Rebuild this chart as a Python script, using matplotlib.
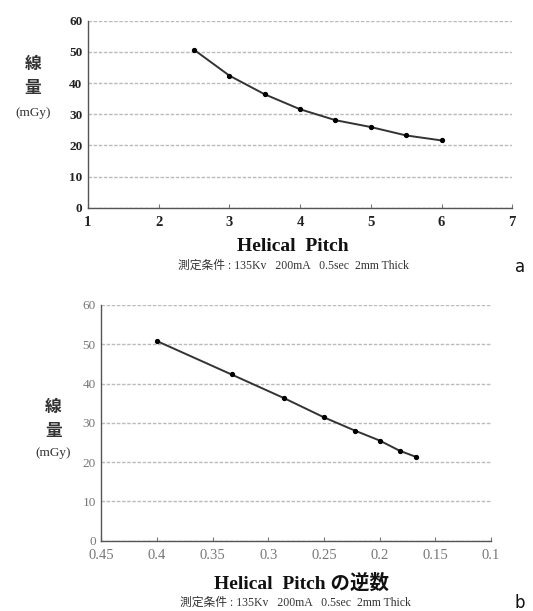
import matplotlib
matplotlib.use("Agg")
import matplotlib.pyplot as plt

# data
pitch = [2.5, 3.0, 3.5, 4.0, 4.5, 5.0, 5.5, 6.0]
dose_a = [50.7, 42.4, 36.4, 31.6, 28.1, 25.9, 23.2, 21.6]
inv_pitch = [0.4, 0.333, 0.286, 0.25, 0.222, 0.2, 0.182, 0.167]
dose_b = [50.8, 42.3, 36.3, 31.4, 28.0, 25.5, 22.9, 21.3]

xticks_a = [1, 2, 3, 4, 5, 6, 7]
xticks_b = [0.45, 0.4, 0.35, 0.3, 0.25, 0.2, 0.15, 0.1]
xlabels_b = ["0.45", "0.4", "0.35", "0.3", "0.25", "0.2", "0.15", "0.1"]
yticks = [0, 10, 20, 30, 40, 50, 60]

FAM = ["Liberation Serif", "Noto Sans CJK JP", "DejaVu Sans"]
COND = "測定条件 : 135Kv   200mA   0.5sec  2mm Thick"

fig = plt.figure(figsize=(5.33, 6.11), dpi=100)


def style_axes(ax, bold, tick_color):
    for s in ("top", "right"):
        ax.spines[s].set_visible(False)
    for s in ("left", "bottom"):
        ax.spines[s].set_color("#555555")
        ax.spines[s].set_linewidth(1.0)
    ax.set_ylim(0, 60)
    ax.set_yticks(yticks)
    ax.yaxis.grid(True, linestyle=(0, (2.5, 1.2)), color="#bbbbbb", linewidth=1.0)
    ax.set_axisbelow(True)
    ax.tick_params(axis="x", direction="in", length=3, color="#777777",
                   labelsize=10.5, labelcolor=tick_color, pad=6)
    ax.tick_params(axis="y", length=0, labelsize=9.5, labelcolor=tick_color, pad=4)
    for lab in ax.get_xticklabels() + ax.get_yticklabels():
        lab.set_family("Liberation Serif")
        if bold:
            lab.set_fontweight("bold")


# panel a
ax1 = fig.add_axes([0.165, 0.66, 0.796, 0.306])
ax1.plot(pitch, dose_a, color="#333333", linewidth=1.4, marker="o",
         markersize=2.8, markerfacecolor="black", markeredgecolor="black")
ax1.set_xlim(1, 7)
ax1.set_xticks(xticks_a)
style_axes(ax1, True, "#222222")

fig.text(0.55, 0.597, "Helical  Pitch", family=FAM, fontsize=14,
         fontweight="bold", ha="center", va="center", color="#111111")
fig.text(0.55, 0.565, COND, family=FAM, fontsize=8.5, ha="center",
         va="center", color="#333333")
fig.text(0.975, 0.563, "a", family="DejaVu Sans", fontsize=12,
         ha="center", va="center", color="#111111")
fig.text(0.062, 0.893, "線", family=FAM, fontsize=12, fontweight="bold",
         ha="center", va="center", color="#333333")
fig.text(0.062, 0.855, "量", family=FAM, fontsize=12, fontweight="bold",
         ha="center", va="center", color="#333333")
fig.text(0.062, 0.815, "(mGy)", family=FAM, fontsize=9.5,
         ha="center", va="center", color="#333333")

# panel b
ax2 = fig.add_axes([0.19, 0.115, 0.731, 0.386])
ax2.plot(inv_pitch, dose_b, color="#333333", linewidth=1.4, marker="o",
         markersize=2.8, markerfacecolor="black", markeredgecolor="black")
ax2.set_xlim(0.45, 0.1)
ax2.set_xticks(xticks_b)
ax2.set_xticklabels(xlabels_b)
style_axes(ax2, False, "#777777")

fig.text(0.565, 0.046, "Helical  Pitch の逆数", family=FAM, fontsize=14,
         fontweight="bold", ha="center", va="center", color="#111111")
fig.text(0.555, 0.013, COND, family=FAM, fontsize=8.5, ha="center",
         va="center", color="#333333")
fig.text(0.975, 0.013, "b", family="DejaVu Sans", fontsize=12,
         ha="center", va="center", color="#111111")
fig.text(0.1, 0.332, "線", family=FAM, fontsize=12, fontweight="bold",
         ha="center", va="center", color="#333333")
fig.text(0.1, 0.293, "量", family=FAM, fontsize=12, fontweight="bold",
         ha="center", va="center", color="#333333")
fig.text(0.1, 0.259, "(mGy)", family=FAM, fontsize=9.5,
         ha="center", va="center", color="#333333")

fig.savefig("out.png", dpi=100)
